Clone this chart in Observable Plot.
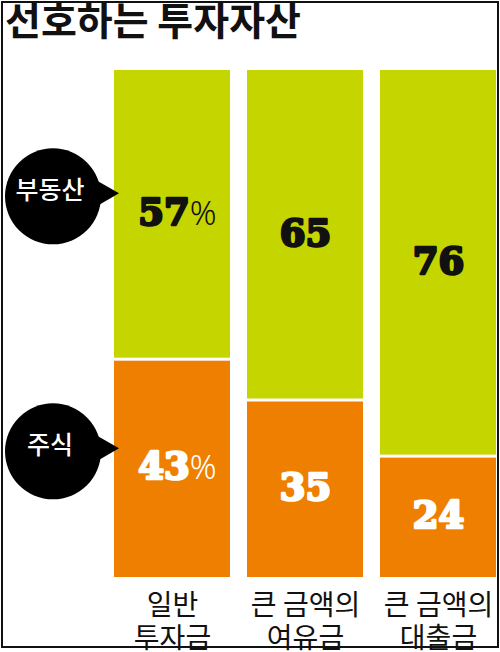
<!DOCTYPE html>
<html><head><meta charset="utf-8">
<script src="https://cdn.jsdelivr.net/npm/d3@7"></script>
<script src="https://cdn.jsdelivr.net/npm/@observablehq/plot@0.6"></script>
<style>
html,body{margin:0;padding:0;background:#fff;}
#wrap{position:relative;width:500px;height:652px;overflow:hidden;background:#fff;}
#title{height:44px;font-family:"Noto Sans CJK KR",sans-serif;font-weight:700;font-size:39px;line-height:36px;padding-left:5px;letter-spacing:0;color:#111;white-space:nowrap;}
#frame{position:absolute;left:1px;top:1px;width:498px;height:647px;box-sizing:border-box;border:2px solid #111;pointer-events:none;}
#chart svg{display:block;}
</style></head><body>
<div id="wrap"><div id="title">선호하는 투자자산</div><div id="chart"></div><div id="frame"></div></div>
<script>
const categories = ["일반\n투자금", "큰 금액의\n여유금", "큰 금액의\n대출금"];
const seriesNames = ["부동산", "주식"];
const realEstate = [57, 65, 76];
const stocks = [43, 35, 24];
const seriesColors = ["#c5d500", "#ef7f00"];

const rows = [];
categories.forEach((c, i) => {
  rows.push({category: c, series: seriesNames[0], value: realEstate[i]});
  rows.push({category: c, series: seriesNames[1], value: stocks[i]});
});
const order = [seriesNames[1], seriesNames[0]];
const numFont = '"DejaVu Serif", serif';
const labelText = d => d.category === categories[0] ? d.value + "%" : String(d.value);
const stackOpts = extra => Plot.stackY({x: "category", y: "value", z: "series", order, ...extra});

const chart = Plot.plot({
  width: 500, height: 608,
  marginLeft: 113, marginRight: 4, marginTop: 24.5, marginBottom: 73.5,
  style: {fontFamily: '"Noto Sans CJK KR", sans-serif', background: "transparent", color: "#111", overflow: "visible"},
  x: {domain: categories, paddingInner: 0.13, paddingOuter: 0, label: null},
  y: {domain: [0, 100], axis: null},
  color: {domain: seriesNames, range: seriesColors},
  marks: [
    Plot.barY(rows, Plot.stackY({x: "category", y: "value", fill: "series", order, insetTop: 1.5, insetBottom: 1.5})),
    Plot.text(rows, Plot.filter(d => d.series === seriesNames[0], stackOpts({text: labelText, fill: "#111", stroke: "#111", strokeWidth: 2.6, fontSize: 37, fontWeight: "bold", fontFamily: numFont, dy: -1}))),
    Plot.text(rows, Plot.filter(d => d.series === seriesNames[1], stackOpts({text: labelText, fill: "white", stroke: "white", strokeWidth: 2.6, fontSize: 37, fontWeight: "bold", fontFamily: numFont, dy: -2}))),
    Plot.dot(rows, Plot.filter(d => d.category === categories[0], stackOpts({r: 48, fill: "#000", dx: -119.5, dy: -18}))),
    Plot.dot(rows, Plot.filter(d => d.category === categories[0], stackOpts({symbol: "triangle", rotate: 90, r: 9, fill: "#000", dx: -67.5, dy: -21}))),
    Plot.text(rows, Plot.filter(d => d.category === categories[0], stackOpts({text: "series", fill: "white", fontSize: 25, fontWeight: 500, dx: -122.5, dy: -23}))),
    Plot.axisX({tickSize: 0, tickPadding: 13, fontSize: 28, lineHeight: 1.18, fill: "#111"})
  ]
});

d3.select(chart).selectAll("text").each(function () {
  const t = this.textContent;
  if (/^\d+%$/.test(t)) {
    const num = t.slice(0, -1);
    this.textContent = "";
    d3.select(this).append("tspan").text(num);
    d3.select(this).append("tspan")
      .attr("font-family", '"Noto Sans", sans-serif')
      .attr("font-weight", 300)
      .attr("font-size", 33)
      .attr("stroke", "none")
      .text("%");
    this.setAttribute("dx", 5);
  }
});
document.getElementById("chart").appendChild(chart);
</script>
</body></html>
